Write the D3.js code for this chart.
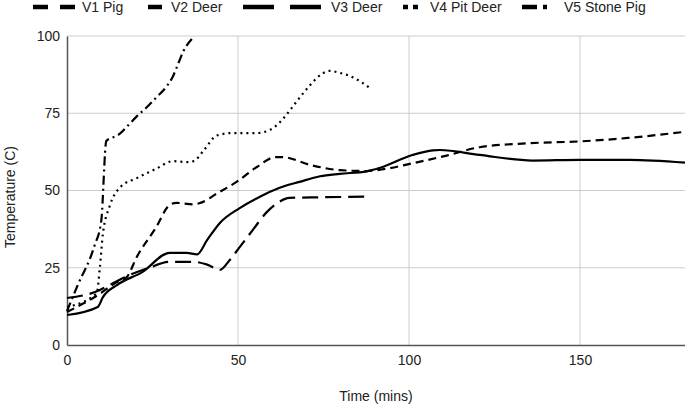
<!DOCTYPE html>
<html><head><meta charset="utf-8">
<script src="https://cdn.jsdelivr.net/npm/d3@7"></script>
<style>body{margin:0;background:#fff;}svg{display:block;font-family:"Liberation Sans",Arial,sans-serif;}</style>
</head><body>
<svg id="c" width="685" height="406"></svg>
<script>
const seriesNames = ["V1 Pig","V2 Deer","V3 Deer","V4 Pit Deer","V5 Stone Pig"];
const v1Pig = [[0,10.7],[9.5,16.5],[14,20],[17.5,22],[20.4,28.5],[26,38],[30,45.3],[32,46],[37,45.5],[39,46],[43.8,49],[49.6,52.8],[55.5,57.6],[61,60.8],[63,60.8],[71,58.3],[79.7,56.6],[87.6,56.3],[92,56.8],[101,58.8],[111,61.3],[120.6,64],[135,65.3],[150,65.9],[164,67],[180.7,69]];
const v2Deer = [[0,15.2],[9.6,17.8],[11.7,19],[16.4,21.7],[24,25],[30,26.9],[37,26.9],[41,26],[44.7,24.3],[47.6,27.5],[50.5,31.7],[54.3,37.2],[58.4,43],[62,46.3],[65,47.6],[74,47.8],[87.6,48]];
const v3Deer = [[0,9.7],[9,12.3],[10.5,15.5],[14.6,19.4],[22,23.6],[30,29.8],[35,29.8],[38,29.3],[41,34],[44.7,39.5],[50.5,44.3],[56.4,48],[62,50.8],[68,52.8],[74,54.6],[79.7,55.4],[87.6,56.2],[91.4,57.3],[101,61.5],[107,63],[109,63.1],[120.6,61.5],[136,59.7],[150,59.9],[164.5,59.9],[180.7,59]];
const v4PitDeer = [[0,12.3],[8.7,16.8],[9.6,25],[10.5,36],[12.5,45],[15.5,51],[20.4,54],[26,57],[31,59.5],[35,59.2],[37,59.5],[40,63],[43.8,67.8],[48.5,68.6],[55.5,68.6],[59.3,69.6],[62,71.8],[64.5,75],[67.5,79.3],[71,84],[74.5,87.7],[76.8,88.7],[79.7,88.1],[84,86.4],[89,82.8]];
const v5StonePig = [[0,11],[3,19],[8,32],[10,40],[11.5,66],[13,67],[15,68],[17.8,71],[20.4,74],[23.4,77],[26,80],[29,83.5],[31,87],[32.5,91],[34,95],[36.5,99]];
const xTicks = [0,50,100,150];
const yTicks = [0,25,50,75,100];
const dashes = ["8,5","16,7",null,"2,4","9,4,2,4"];

const svg = d3.select("#c");
const x = d3.scaleLinear().domain([0,180.7]).range([67,685]);
const y = d3.scaleLinear().domain([0,100]).range([345,36]);

// gridlines
svg.append("g").selectAll("line").data(xTicks.filter(d=>d>0)).join("line")
  .attr("x1",d=>x(d)).attr("x2",d=>x(d)).attr("y1",y(100)).attr("y2",y(0))
  .attr("stroke","#cccccc").attr("stroke-width",1);
svg.append("g").selectAll("line").data(yTicks.filter(d=>d>0)).join("line")
  .attr("x1",x(0)).attr("x2",685).attr("y1",d=>y(d)).attr("y2",d=>y(d))
  .attr("stroke","#cccccc").attr("stroke-width",1);

// axes
const xAxis = svg.append("g").attr("transform",`translate(0,${y(0)})`)
  .call(d3.axisBottom(x).tickValues(xTicks).tickSize(0).tickPadding(10));
xAxis.select(".domain").attr("stroke","#555").attr("stroke-width",1.5);
xAxis.selectAll("text").attr("font-size",14).attr("fill","#222").attr("font-family","Liberation Sans, Arial, sans-serif");
const yAxis = svg.append("g").attr("transform",`translate(${x(0)},0)`)
  .call(d3.axisLeft(y).tickValues(yTicks).tickSize(0).tickPadding(7));
yAxis.select(".domain").attr("stroke","#555").attr("stroke-width",1.5);
yAxis.selectAll("text").attr("font-size",14).attr("fill","#222").attr("font-family","Liberation Sans, Arial, sans-serif");

// lines
const allData = [v1Pig,v2Deer,v3Deer,v4PitDeer,v5StonePig];
const line = d3.line().x(d=>x(d[0])).y(d=>y(d[1])).curve(d3.curveMonotoneX);
allData.forEach((data,i)=>{
  svg.append("path").datum(data).attr("d",line)
    .attr("fill","none").attr("stroke","#000").attr("stroke-width",2.2)
    .attr("stroke-dasharray",dashes[i]);
});

// legend
const legX = [33,148,243,403,522];
const legW = [42,14,78,15,25];
const legDash = ["15,12","14,0","31,16","5,5","15,6,4,6"];
const legTextX = [82,171,331,430,564];
const lg = svg.append("g");
seriesNames.forEach((n,i)=>{
  lg.append("line").attr("x1",legX[i]).attr("x2",legX[i]+legW[i]).attr("y1",7).attr("y2",7)
    .attr("stroke","#000").attr("stroke-width",4.5).attr("stroke-dasharray",legDash[i]);
  lg.append("text").attr("x",legTextX[i]).attr("y",12).attr("font-size",14).attr("fill","#222").text(n);
});

// axis titles
svg.append("text").attr("x",376).attr("y",401).attr("text-anchor","middle").attr("font-size",14).attr("fill","#222").text("Time (mins)");
svg.append("text").attr("transform","translate(15,197) rotate(-90)").attr("text-anchor","middle").attr("font-size",14).attr("fill","#222").text("Temperature (C)");
</script>
</body></html>
